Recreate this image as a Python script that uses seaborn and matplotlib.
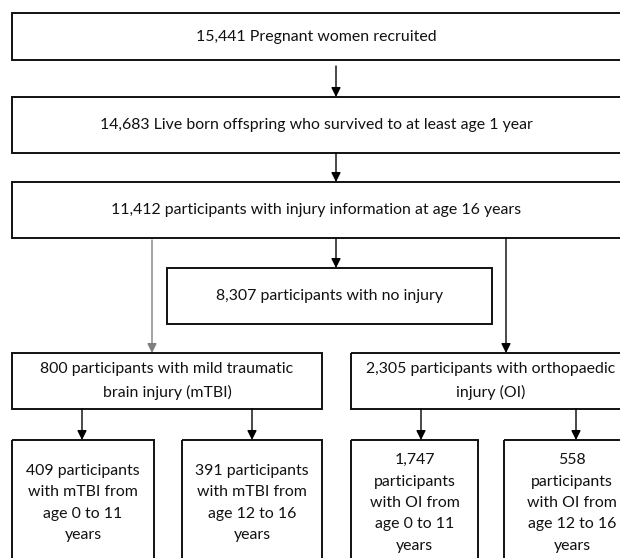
import matplotlib.pyplot as plt
import seaborn as sns
from matplotlib.patches import Rectangle

sns.set_theme(style="white")
plt.rcParams["font.family"] = ["Lato", "DejaVu Sans"]

# counts and labels of the flowchart boxes
counts = ["15,441", "14,683", "11,412", "8,307", "800", "2,305", "409", "391", "1,747", "558"]
labels = [
    "{} Pregnant women recruited",
    "{} Live born offspring who survived to at least age 1 year",
    "{} participants with injury information at age 16 years",
    "{} participants with no injury",
    "{} participants with mild traumatic\nbrain injury (mTBI)",
    "{} participants with orthopaedic\ninjury (OI)",
    "{} participants\nwith mTBI from\nage 0 to 11\nyears",
    "{} participants\nwith mTBI from\nage 12 to 16\nyears",
    "{}\nparticipants\nwith OI from\nage 0 to 11\nyears",
    "{}\nparticipants\nwith OI from\nage 12 to 16\nyears",
]

# layout in pixels: x0, x1, y0, y1
boxes = [
    (12, 621, 13, 60),
    (12, 621, 97, 153),
    (12, 621, 182, 238),
    (167, 492, 268, 324),
    (12, 322, 353, 409),
    (351, 631, 353, 409),
    (12, 154, 440, 566),
    (182, 322, 440, 566),
    (351, 478, 440, 566),
    (504, 640, 440, 566),
]
# arrows: x, y_start, y_end, colour
arrows = [
    (336, 66, 97, "black"),
    (336, 153, 182, "black"),
    (152, 240, 353, "#7f7f7f"),
    (336, 238, 268, "black"),
    (506, 238, 353, "black"),
    (82, 409, 440, "black"),
    (252, 409, 440, "black"),
    (421, 409, 440, "black"),
    (576, 409, 440, "black"),
]

fig = plt.figure(figsize=(6.2, 5.58), dpi=100)
ax = fig.add_axes([0, 0, 1, 1])
ax.set_xlim(0, 620)
ax.set_ylim(558, 0)
ax.axis("off")

for (x0, x1, y0, y1), n, lab in zip(boxes, counts, labels):
    ax.add_patch(Rectangle((x0, y0), x1 - x0, y1 - y0, fill=False,
                           edgecolor="#111111", lw=1.4))
    ax.text((x0 + x1) / 2, (y0 + y1) / 2, lab.format(n), ha="center", va="center",
            fontsize=11.4, color="#111111", linespacing=1.68)

for x, ya, yb, c in arrows:
    ax.annotate("", xy=(x, yb), xytext=(x, ya),
                arrowprops=dict(arrowstyle="-|>", color=c, lw=1.0,
                                mutation_scale=14, shrinkA=0, shrinkB=0))

fig.savefig("out.png", dpi=100)
